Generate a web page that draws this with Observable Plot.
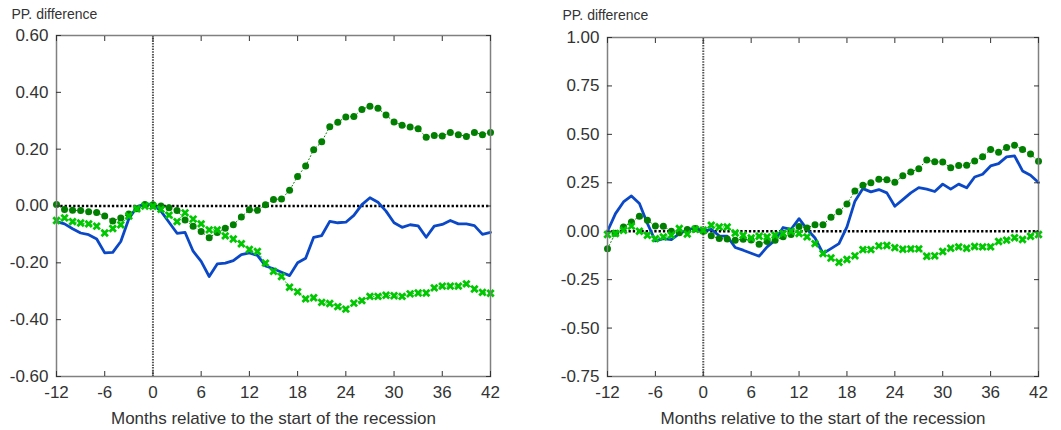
<!DOCTYPE html>
<html><head><meta charset="utf-8">
<script src="https://cdn.jsdelivr.net/npm/d3@7"></script>
<script src="https://cdn.jsdelivr.net/npm/@observablehq/plot@0.6"></script>
<style>
body{margin:0;background:#fff;}
#wrap{position:relative;width:1061px;height:430px;overflow:hidden;}
.panel{position:absolute;top:0;}
</style></head><body><div id="wrap"></div>
<script>
const months = [-12,-11,-10,-9,-8,-7,-6,-5,-4,-3,-2,-1,0,1,2,3,4,5,6,7,8,9,10,11,12,13,14,15,16,17,18,19,20,21,22,23,24,25,26,27,28,29,30,31,32,33,34,35,36,37,38,39,40,41,42];
const xTicks = [-12,-6,0,6,12,18,24,30,36,42];
const leftYTicks = [-0.6,-0.4,-0.2,0,0.2,0.4,0.6];
const rightYTicks = [-0.75,-0.5,-0.25,0,0.25,0.5,0.75,1.0];
const yLabel = "PP. difference";
const xLabel = "Months relative to the start of the recession";

const leftBlue = [-0.055,-0.063,-0.080,-0.095,-0.101,-0.116,-0.165,-0.163,-0.125,-0.045,-0.004,0.008,
  0.005,-0.018,-0.057,-0.096,-0.093,-0.159,-0.195,-0.248,-0.204,-0.201,
  -0.192,-0.171,-0.165,-0.174,-0.211,-0.221,-0.233,-0.245,-0.200,-0.184,
  -0.110,-0.104,-0.054,-0.059,-0.057,-0.033,0.005,0.029,0.013,-0.018,
  -0.059,-0.075,-0.066,-0.070,-0.110,-0.071,-0.065,-0.051,-0.063,-0.063,
  -0.069,-0.100,-0.093];
const leftDark = [0.005,-0.012,-0.015,-0.016,-0.020,-0.023,-0.035,-0.053,-0.042,-0.028,-0.010,0.005,
  0.004,0.000,-0.006,-0.016,-0.049,-0.071,-0.090,-0.112,-0.093,-0.078,
  -0.066,-0.039,-0.013,-0.015,0.004,0.023,0.025,0.055,0.104,0.141,
  0.198,0.226,0.279,0.295,0.313,0.315,0.340,0.351,0.344,0.320,
  0.296,0.284,0.278,0.272,0.242,0.248,0.246,0.259,0.251,0.245,
  0.259,0.251,0.259];
const leftLight = [-0.051,-0.042,-0.055,-0.060,-0.063,-0.071,-0.095,-0.079,-0.066,-0.035,-0.010,0.000,
  -0.001,-0.012,-0.032,-0.055,-0.024,-0.046,-0.063,-0.084,-0.084,-0.105,
  -0.116,-0.133,-0.153,-0.160,-0.201,-0.230,-0.248,-0.286,-0.302,-0.327,
  -0.323,-0.339,-0.343,-0.354,-0.363,-0.342,-0.333,-0.318,-0.318,-0.314,
  -0.316,-0.318,-0.309,-0.306,-0.306,-0.288,-0.282,-0.282,-0.282,-0.274,
  -0.292,-0.304,-0.307];

const rightBlue = [0.000,0.091,0.151,0.182,0.143,0.040,-0.050,-0.038,-0.043,-0.012,0.005,0.019,
  0.000,0.010,-0.024,-0.026,-0.084,-0.098,-0.114,-0.129,-0.081,-0.046,
  0.019,0.010,0.065,0.010,-0.035,-0.115,-0.090,-0.064,0.022,0.155,
  0.220,0.203,0.215,0.198,0.129,0.163,0.198,0.225,0.217,0.205,
  0.243,0.217,0.243,0.224,0.280,0.294,0.337,0.349,0.384,0.389,
  0.311,0.289,0.251];
const rightDark = [-0.090,-0.010,0.022,0.048,0.077,0.057,0.027,0.026,0.000,-0.008,0.009,0.014,
  0.000,-0.024,-0.038,-0.040,-0.046,-0.041,-0.045,-0.067,-0.053,-0.046,
  -0.029,-0.017,0.024,0.017,0.034,0.034,0.072,0.100,0.141,0.207,
  0.237,0.250,0.268,0.266,0.253,0.286,0.306,0.323,0.368,0.358,
  0.357,0.327,0.339,0.341,0.363,0.385,0.422,0.408,0.432,0.444,
  0.422,0.398,0.361];
const rightLight = [-0.017,-0.012,0.005,0.026,0.000,-0.021,-0.038,-0.029,-0.021,0.014,-0.015,0.010,
  0.005,0.031,0.022,0.022,-0.009,-0.021,-0.035,-0.026,-0.029,-0.021,
  -0.012,0.000,-0.012,-0.029,-0.064,-0.115,-0.138,-0.160,-0.146,-0.127,
  -0.095,-0.095,-0.076,-0.074,-0.085,-0.093,-0.091,-0.091,-0.129,-0.127,
  -0.105,-0.088,-0.081,-0.088,-0.079,-0.081,-0.081,-0.053,-0.046,-0.034,
  -0.043,-0.026,-0.017];

const BLUE = "#0a48c8", DARK = "#007f00", LIGHT = "#00c800";
const FONT = "'Liberation Sans', Arial, Helvetica, sans-serif";
const fmt = d => d.toFixed(2);

function panel(cfg) {
  const rows = months.map((m, i) => ({m, b: cfg.blue[i], d: cfg.dark[i], l: cfg.light[i]}));
  const svg = Plot.plot({
    width: cfg.width, height: 430,
    marginLeft: cfg.mL, marginRight: cfg.mR, marginTop: cfg.mT, marginBottom: cfg.mB,
    style: {fontFamily: FONT, fontSize: "17px", color: "#333", background: "#fff", overflow: "visible"},
    x: {domain: [-12, 42], ticks: xTicks},
    y: {domain: cfg.yDomain, ticks: cfg.yTicks},
    marks: [
      Plot.ruleX([0], {stroke: "#555", strokeWidth: 2, strokeDasharray: "1.5,1.2"}),
      Plot.ruleY([0], {stroke: "#000", strokeWidth: 2.5, strokeDasharray: "2.3,2"}),
      Plot.line(rows, {x: "m", y: "d", stroke: DARK, strokeWidth: 1, strokeDasharray: "1,2.5"}),
      Plot.line(rows, {x: "m", y: "l", stroke: LIGHT, strokeWidth: 1, strokeDasharray: "1,3"}),
      Plot.line(rows, {x: "m", y: "b", stroke: BLUE, strokeWidth: 2.8}),
      Plot.dot(rows, {x: "m", y: "d", r: 3.5, fill: DARK, stroke: "none"}),
      Plot.dot(rows, {x: "m", y: "l", symbol: "times", r: 3.0, stroke: LIGHT, strokeWidth: 2.8}),
      Plot.frame({stroke: "#808080", strokeWidth: 1.5}),
      Plot.axisY({ticks: cfg.yTicks, tickSize: 0, tickPadding: 8, tickFormat: fmt, label: null, fontSize: 17}),
      Plot.axisY({anchor: "left", ticks: cfg.yTicks, text: null, tickSize: 5, dx: 5, label: null}),
      Plot.axisY({anchor: "right", ticks: cfg.yTicks, text: null, tickSize: 5, dx: -5, label: null}),
      Plot.axisX({ticks: xTicks, tickSize: 0, tickPadding: 9, tickFormat: d => String(d), label: null, fontSize: 17}),
      Plot.axisX({anchor: "bottom", ticks: xTicks, text: null, tickSize: 5, dy: -5, label: null}),
      Plot.axisX({anchor: "top", ticks: xTicks, text: null, tickSize: 5, dy: 5, label: null}),
      Plot.text([xLabel], {frameAnchor: "bottom", dy: 42, text: d => d, fontSize: 17, fill: "#333", lineAnchor: "middle"}),
      Plot.text([yLabel], {frameAnchor: "top-left", dx: cfg.ydx, dy: cfg.ydy, text: d => d, fontSize: 14, fill: "#333", textAnchor: "start", lineAnchor: "middle"})
    ]
  });
  svg.classList.add("panel");
  svg.style.left = cfg.left + "px";
  return svg;
}

const wrap = document.getElementById("wrap");
wrap.appendChild(panel({left: 0, width: 530, mL: 56, mR: 40, mT: 35, mB: 54,
  yDomain: [-0.6, 0.6], yTicks: leftYTicks, blue: leftBlue, dark: leftDark, light: leftLight, ydx: -45, ydy: -21}));
wrap.appendChild(panel({left: 530, width: 531, mL: 77, mR: 23, mT: 37, mB: 54,
  yDomain: [-0.75, 1.0], yTicks: rightYTicks, blue: rightBlue, dark: rightDark, light: rightLight, ydx: -45, ydy: -22}));
</script>
</body></html>
